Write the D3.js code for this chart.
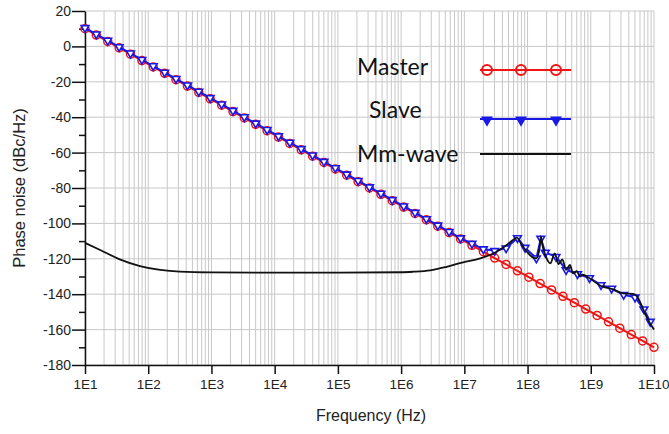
<!DOCTYPE html>
<html>
<head>
<meta charset="utf-8">
<script src="https://cdn.jsdelivr.net/npm/d3@7/dist/d3.min.js"></script>
<style>
  body { margin: 0; background: #fff; }
  svg { display: block; }
</style>
</head>
<body>
<svg width="669" height="434"></svg>
<script>
// frequencies where the Master markers sit (Hz)
const masterFreq = [1.00e1, 1.51e1, 2.29e1, 3.47e1, 5.25e1, 7.94e1, 1.20e2, 1.82e2, 2.75e2, 4.17e2,
    6.31e2, 9.55e2, 1.45e3, 2.19e3, 3.31e3, 5.01e3, 7.59e3, 1.15e4, 1.74e4, 2.63e4,
    3.98e4, 6.03e4, 9.12e4, 1.38e5, 2.09e5, 3.16e5, 4.79e5, 7.24e5, 1.10e6, 1.66e6,
    2.51e6, 3.80e6, 5.75e6, 8.71e6, 1.32e7, 2.00e7, 3.02e7, 4.57e7, 6.92e7, 1.05e8,
    1.58e8, 2.40e8, 3.63e8, 5.50e8, 8.32e8, 1.26e9, 1.91e9, 2.88e9, 4.37e9, 6.61e9, 1.00e10]
const masterDb = [10, 6.4, 2.8, -0.8, -4.4, -8, -11.6, -15.2, -18.8, -22.4,
    -26, -29.6, -33.2, -36.8, -40.4, -44, -47.6, -51.2, -54.8, -58.4,
    -62, -65.6, -69.2, -72.8, -76.4, -80, -83.6, -87.2, -90.8, -94.4,
    -98, -101.6, -105.2, -108.8, -112.4, -116, -119.6, -123.2, -126.8, -130.4,
    -134, -137.6, -141.2, -144.8, -148.4, -152, -155.6, -159.2, -162.8, -166.4, -170]

const slaveFreq = [1.00e1, 1.51e1, 2.29e1, 3.47e1, 5.25e1, 7.94e1, 1.20e2, 1.82e2, 2.75e2, 4.17e2,
    6.31e2, 9.55e2, 1.45e3, 2.19e3, 3.31e3, 5.01e3, 7.59e3, 1.15e4, 1.74e4, 2.63e4,
    3.98e4, 6.03e4, 9.12e4, 1.38e5, 2.09e5, 3.16e5, 4.79e5, 7.24e5, 1.10e6, 1.66e6,
    2.51e6, 3.80e6, 5.75e6, 8.71e6, 1.32e7, 2.00e7, 3.02e7, 4.57e7, 6.92e7, 9.12e7,
    1.38e8, 1.62e8, 1.91e8, 2.82e8, 4.07e8, 6.17e8, 9.55e8, 1.45e9, 2.14e9, 3.31e9,
    5.01e9, 6.92e9, 8.71e9]
const slaveDb = [10.5, 6.9, 3.3, -0.3, -3.9, -7.5, -11.1, -14.7, -18.3, -21.9,
    -25.5, -29.1, -32.7, -36.3, -39.9, -43.5, -47.1, -50.7, -54.3, -57.9,
    -61.5, -65.1, -68.7, -72.3, -75.9, -79.5, -83.1, -86.7, -90.3, -93.9,
    -97.5, -101.1, -104.7, -108.3, -111.4, -114.5, -115.5, -114, -108.2, -113.7,
    -119.7, -108.5, -116.5, -118.8, -126.3, -128.6, -130.8, -134.8, -136.8, -140.3,
    -141.8, -148.5, -155.5]

const mmFreq = [1.00e1, 1.74e1, 3.55e1, 7.41e1, 1.55e2, 3.16e2, 1e3, 1e4, 1e5, 1e6,
    1.55e6, 2.88e6, 5.25e6, 9.55e6, 1.78e7, 3.24e7, 4.68e7, 5.89e7, 6.76e7, 8.13e7,
    9.77e7, 1.23e8, 1.38e8, 1.55e8, 1.62e8, 1.74e8, 1.95e8, 2.29e8, 2.69e8, 3.09e8,
    3.55e8, 4.07e8, 4.68e8, 5.25e8, 6.03e8, 6.76e8, 7.41e8, 9.55e8, 1.48e9, 2.14e9,
    3.24e9, 4.68e9, 5.62e9, 6.46e9, 7.59e9, 1.00e10]
const mmDb = [-111, -115, -120.3, -124.1, -126.3, -127.3, -127.7, -127.8, -127.8, -127.6,
    -127.3, -126.5, -124.5, -122, -119.8, -116, -112.2, -109.4, -108, -112.2,
    -116, -119.4, -119.7, -114, -107.5, -113.2, -118.8, -122.6, -117, -123,
    -120.3, -126.3, -123.5, -128.2, -127, -130, -129, -131, -135.5, -137,
    -139.5, -139.8, -142.3, -147, -152.7, -160]

const yTicks = [20, 0, -20, -40, -60, -80, -100, -120, -140, -160, -180]
const yMinorTicks = [10, -10, -30, -50, -70, -90, -110, -130, -150, -170]
const xTicks = [1e1, 1e2, 1e3, 1e4, 1e5, 1e6, 1e7, 1e8, 1e9, 1e10]
const xTickLabels = ['1E1', '1E2', '1E3', '1E4', '1E5', '1E6', '1E7', '1E8', '1E9', '1E10']
const legendNames = ['Master', 'Slave', 'Mm-wave']

const svg = d3.select('svg')
const plotL = 85, plotR = 654, plotT = 11, plotB = 365
const axisFont = '"Liberation Sans", Arial, sans-serif'

const x = d3.scaleLog().domain([1e1, 1e10]).range([plotL, plotR])
const y = d3.scaleLinear().domain([-180, 20]).range([plotB, plotT])

// log grid: every 1..9 inside each decade
const gridFreqs = []
xTicks.forEach(d => {
    for (let k = 1; k <= 9; k++) {
        if (d * k <= 1e10) gridFreqs.push(d * k)
    }
})
svg.append('g').selectAll('line').data(gridFreqs).join('line')
    .attr('x1', d => x(d)).attr('x2', d => x(d))
    .attr('y1', plotT).attr('y2', plotB)
    .style('stroke', 'rgb(200,200,200)')
    .style('stroke-width', 1)
svg.append('g').selectAll('line').data(yTicks).join('line')
    .attr('x1', plotL).attr('x2', plotR)
    .attr('y1', d => y(d)).attr('y2', d => y(d))
    .style('stroke', 'rgb(200,200,200)')
    .style('stroke-width', 1)

// axes
const yAxisG = svg.append('g')
    .attr('transform', `translate(${plotL},0)`)
    .call(d3.axisLeft(y).tickValues(yTicks).tickSize(13).tickSizeOuter(0).tickPadding(1)
        .tickFormat(d => String(d)))
svg.append('g')
    .attr('transform', `translate(${plotL},0)`)
    .call(d3.axisLeft(y).tickValues(yMinorTicks).tickSize(6).tickSizeOuter(0).tickFormat(''))
    .select('.domain').remove()
const xAxisG = svg.append('g')
    .attr('transform', `translate(0,${plotB})`)
    .call(d3.axisBottom(x).tickValues(xTicks).tickSize(9).tickSizeOuter(0).tickPadding(5)
        .tickFormat((d, i) => xTickLabels[i]))
svg.selectAll('.domain, .tick line').style('stroke', '#111').style('stroke-width', 1.5)
yAxisG.selectAll('.tick text')
    .style('font-family', axisFont).style('font-size', '14px').style('fill', '#222')
xAxisG.selectAll('.tick text')
    .style('font-family', axisFont).style('font-size', '13.5px').style('fill', '#222')
// last label sits on the right edge, nudge it in
xAxisG.selectAll('.tick text').filter((d, i) => i === xTicks.length - 1)
    .attr('text-anchor', 'end').attr('x', 15)

svg.append('text')
    .attr('x', 371).attr('y', 421)
    .attr('text-anchor', 'middle')
    .style('font-family', axisFont)
    .style('font-size', '16px').style('fill', '#222')
    .text('Frequency (Hz)')
svg.append('text')
    .attr('transform', 'translate(25,188) rotate(-90)')
    .attr('text-anchor', 'middle')
    .style('font-family', axisFont)
    .style('font-size', '16.5px').style('fill', '#222')
    .text('Phase noise (dBc/Hz)')

const line = d3.line().x(d => x(d[0])).y(d => y(d[1]))
const masterPts = d3.zip(masterFreq, masterDb)
const slavePts = d3.zip(slaveFreq, slaveDb)
const mmPts = d3.zip(mmFreq, mmDb)
const tri = d3.symbol().type(d3.symbolTriangle)

function drawSeriesLine(pts, color, width, curve = d3.curveLinear) {
    svg.append('path')
        .attr('d', line.curve(curve)(pts))
        .style('fill', 'none')
        .style('stroke', color)
        .style('stroke-width', width)
}

// Master
drawSeriesLine(masterPts, 'rgb(240,20,20)', 2)
svg.append('g').selectAll('circle').data(masterPts).join('circle')
    .attr('cx', d => x(d[0])).attr('cy', d => y(d[1]))
    .attr('r', 4)
    .style('fill', 'none')
    .style('stroke', 'rgb(240,20,20)')
    .style('stroke-width', 1.5)

// Slave
drawSeriesLine(slavePts, 'rgb(25,25,230)', 2)
svg.append('g').selectAll('path').data(slavePts).join('path')
    .attr('d', tri.size(26)())
    .attr('transform', d => `translate(${x(d[0])},${y(d[1])}) rotate(180)`)
    .style('fill', 'white')
    .style('stroke', 'rgb(25,25,230)')
    .style('stroke-width', 1.6)

// Mm-wave
drawSeriesLine(mmPts, '#111', 1.8, d3.curveMonotoneX)

// legend
const legendY = [70, 119, 154]
const legendTextX = [357, 369, 357]
const legendTextY = [75, 118, 162]
svg.append('g').selectAll('text').data(legendNames).join('text')
    .attr('x', (d, i) => legendTextX[i]).attr('y', (d, i) => legendTextY[i])
    .style('font-family', 'Lato, "Open Sans", sans-serif')
    .style('font-size', '23px').style('fill', '#111')
    .text(d => d)
const legColors = ['rgb(240,20,20)', 'rgb(25,25,230)', '#111']
legendY.forEach((ly, i) => {
    svg.append('line')
        .attr('x1', 480).attr('x2', 571).attr('y1', ly).attr('y2', ly)
        .style('stroke', legColors[i]).style('stroke-width', 2.2)
})
const legMarkX = [487, 521, 556]
svg.append('g').selectAll('circle').data(legMarkX).join('circle')
    .attr('cx', d => d).attr('cy', legendY[0]).attr('r', 5)
    .style('fill', 'none').style('stroke', 'rgb(240,20,20)').style('stroke-width', 2)
svg.append('g').selectAll('path').data(legMarkX).join('path')
    .attr('d', tri.size(60)())
    .attr('transform', d => `translate(${d},${legendY[1] + 1}) rotate(180)`)
    .style('fill', 'rgb(25,25,230)')
</script>
</body>
</html>
